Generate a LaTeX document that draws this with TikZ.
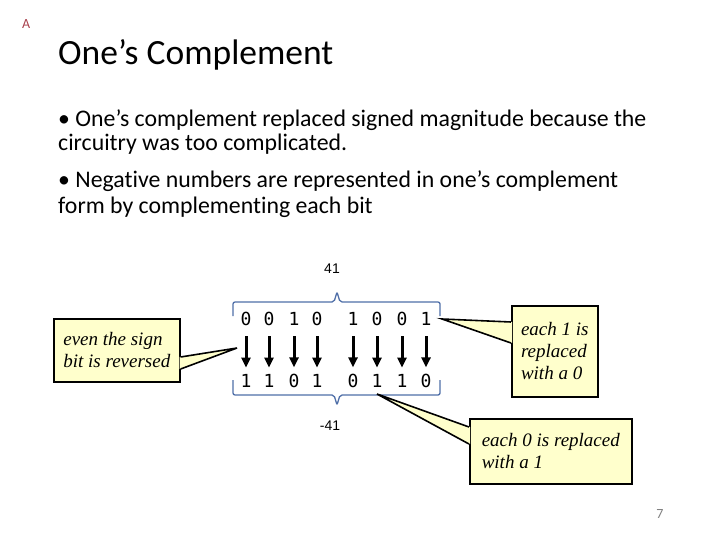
\documentclass[tikz,border=0pt]{standalone}
\usepackage{fontspec}
\setmainfont{Carlito}[Ligatures=NoCommon]
\newfontfamily\labelfont{Liberation Sans}
\newfontfamily\bitfont{DejaVu Sans Mono}
\newfontfamily\notefont{Liberation Serif}
\usetikzlibrary{positioning, arrows.meta, calc}
\definecolor{braceblue}{HTML}{4F6FA8}
\definecolor{notefill}{HTML}{FFFFCC}
\definecolor{tagred}{HTML}{A8404C}

\begin{document}
\begin{tikzpicture}[x=1pt, y=-1pt,
  line/.style={anchor=base west, inner sep=0pt, font=\fontsize{23.8}{26}\selectfont},
  bit/.style={anchor=base, inner sep=0pt, font=\bitfont\fontsize{18}{18}\selectfont},
  flip/.style={-{Triangle[length=10pt, width=9pt]}, line width=3pt, shorten <=11pt, shorten >=6pt},
  brc/.style={draw=braceblue, line width=1.3pt, rounded corners=2pt},
  note/.style={draw, line width=1.6pt, fill=notefill, align=left, anchor=north west,
    inner sep=6pt, font=\notefont\itshape\fontsize{19}{22}\selectfont},
  wedge/.style={line width=1.6pt}
]
  \useasboundingbox (0,0) rectangle (720,540);

  % heading and bullets
  \node[anchor=base west, inner sep=0pt, text=tagred, font=\fontsize{14}{14}\selectfont] (tag) at (22,29) {A};
  \node[anchor=base west, inner sep=0pt, font=\fontsize{35.5}{38}\selectfont] (title) at (58,65) {One’s Complement};
  \node[line] (p1a) at (58,127) {• One’s complement replaced signed magnitude because the};
  \node[line] (p1b) at (58,151) {circuitry was too complicated.};
  \node[line] (p2a) at (58,188) {• Negative numbers are represented in one’s complement};
  \node[line] (p2b) at (58,214) {form by complementing each bit};

  % the bits, before and after
  \foreach \x/\u/\l [count=\i] in {246/0/1, 269/0/1, 294/1/0, 317/0/1, 353/1/0, 377/0/1, 402/0/1, 426/1/0} {
    \node[bit] (t\i) at (\x,325) {\u};
    \node[bit] (b\i) at (\x,387) {\l};
    \draw[flip] (t\i.south) -- (b\i.north);
  }

  % braces
  \draw[brc] (233,316) -- (233,302) -- (334,302) -- (337,292) -- (340,302) -- (440,302) -- (440,316);
  \draw[brc] (233,380) -- (233,395) -- (334,395) -- (337,405) -- (340,395) -- (440,395) -- (440,380);
  \node[anchor=base, inner sep=0pt, font=\labelfont\fontsize{14}{14}\selectfont] (pos) at (332,273) {41};
  \node[anchor=base, inner sep=0pt, font=\labelfont\fontsize{14}{14}\selectfont] (neg) at (330,430) {-41};

  % callouts
  \node[note, minimum width=126pt, minimum height=63pt] (sign) at (53,318) {even the sign\\bit is reversed};
  \node[note, minimum width=86pt, minimum height=91pt] (ones) at (511,305) {each 1 is\\replaced\\with a 0};
  \node[note, minimum width=162pt, minimum height=65pt, inner ysep=3pt] (zeros) at (469,418) {each 0 is replaced\\with a 1};
  \coordinate (signtip) at (237,348);
  \coordinate (onestip) at (442,319);
  \coordinate (zerostip) at (377,394);

  \fill[notefill] ($(sign.north east)+(-1,39)$) -- (signtip) -- ($(sign.north east)+(-1,51)$) -- cycle;
  \draw[wedge] ($(sign.north east)+(0,39)$) -- (signtip) -- ($(sign.north east)+(0,51)$);
  \fill[notefill] ($(ones.north west)+(1,17)$) -- (onestip) -- ($(ones.north west)+(1,38)$) -- cycle;
  \draw[wedge] ($(ones.north west)+(0,17)$) -- (onestip) -- ($(ones.north west)+(0,38)$);
  \fill[notefill] ($(zeros.north west)+(1,9)$) -- (zerostip) -- ($(zeros.north west)+(1,26)$) -- cycle;
  \draw[wedge] ($(zeros.north west)+(0,9)$) -- (zerostip) -- ($(zeros.north west)+(0,26)$);

  \node[anchor=base, inner sep=0pt, text=gray, font=\fontsize{14}{14}\selectfont] (page) at (660,518) {7};
\end{tikzpicture}
\end{document}
